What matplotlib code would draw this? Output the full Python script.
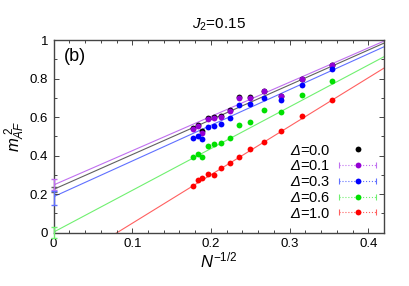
import numpy as np
import matplotlib
matplotlib.use("Agg")
import matplotlib.pyplot as plt
from matplotlib.legend_handler import HandlerErrorbar
from matplotlib.ticker import MultipleLocator

plt.rcParams['font.family'] = ['Liberation Sans', 'DejaVu Sans']
plt.rcParams['mathtext.fontset'] = 'custom'
plt.rcParams['mathtext.rm'] = 'Liberation Sans'
plt.rcParams['mathtext.it'] = 'Liberation Sans:italic'
plt.rcParams['mathtext.sf'] = 'Liberation Sans:italic'

# N^{-1/2} values
x = [0.177, 0.183, 0.189, 0.196, 0.204, 0.213, 0.224, 0.236, 0.250, 0.267, 0.289, 0.316, 0.354]

labels = ["0.0", "0.1", "0.3", "0.6", "1.0"]
colors = ["#000000", "#9400D3", "#0000FF", "#00E000", "#FF0000"]
line_colors = ["#606060", "#C070F0", "#6070FF", "#70F070", "#FF6060"]

y_d00 = [0.545, 0.560, 0.525, 0.595, 0.600, 0.606, 0.636, 0.703, 0.703, 0.736, 0.711, 0.799, 0.872]
y_d01 = [0.538, 0.552, 0.517, 0.590, 0.597, 0.602, 0.631, 0.700, 0.700, 0.733, 0.707, 0.796, 0.868]
y_d03 = [0.489, 0.503, 0.484, 0.546, 0.553, 0.564, 0.595, 0.662, 0.666, 0.697, 0.687, 0.766, 0.848]
y_d06 = [0.390, 0.408, 0.390, 0.448, 0.460, 0.463, 0.493, 0.558, 0.576, 0.635, 0.624, 0.714, 0.785]
y_d10 = [0.240, 0.273, 0.283, 0.302, 0.299, 0.333, 0.363, 0.394, 0.432, 0.468, 0.526, 0.607, 0.688]
series = [y_d00, y_d01, y_d03, y_d06, y_d10]

# linear fits: intercept, slope
fit_intercept = [0.224, 0.247, 0.186, 0.002, -0.204]
fit_slope = [1.81, 1.78, 1.855, 2.17, 2.52]

# extrapolated values at N^{-1/2}=0 with error
ext_val = [0.225, 0.25, 0.18, 0.0, None]
ext_err = [0.012, 0.028, 0.037, 0.028, None]

fig = plt.figure(figsize=(4.09, 2.86), dpi=100)
ax = fig.add_axes([0.131, 0.187, 0.808, 0.673])

xx = np.array([0.0, 0.42])
for c, lc, b, m in zip(colors, line_colors, fit_intercept, fit_slope):
    ax.plot(xx, b + m * xx, color=lc, lw=0.8, zorder=1)

for c, ys in zip(colors, series):
    ax.plot(x, ys, 'o', color=c, ms=4.2, mec='none', zorder=3)

for lc, v, e in zip(line_colors, ext_val, ext_err):
    if v is None:
        continue
    ax.errorbar([0.0], [v], yerr=[e], fmt='none', ecolor=lc, elinewidth=1.0,
                capsize=2.5, capthick=1.0, zorder=4, clip_on=False)

# legend handles
handles = []
h0 = ax.plot([np.nan], [np.nan], 'o', color=colors[0], ms=4.2, mec='none')[0]
handles.append(h0)
for c, lc in zip(colors[1:], line_colors[1:]):
    eb = ax.errorbar([np.nan], [np.nan], xerr=[0.01], fmt='o', color=c, ms=4.2,
                     mec='none', ecolor=lc, elinewidth=0.8, capsize=2.5, capthick=0.8)
    for bl in eb[2]:
        bl.set_linestyle(':')
    handles.append(eb)

leg = ax.legend(handles, [r"$\mathsf{Δ}$=" + s for s in labels],
                loc='upper left', bbox_to_anchor=(0.685, 0.515), frameon=False,
                markerfirst=False, fontsize=10.5, handlelength=2.7,
                handletextpad=0.5, labelspacing=0.12, borderpad=0.2,
                handler_map={type(handles[1]): HandlerErrorbar(xerr_size=1.25)})

ax.set_xlim(0, 0.42)
ax.set_ylim(0, 1)
ax.xaxis.set_minor_locator(MultipleLocator(0.02))
ax.yaxis.set_minor_locator(MultipleLocator(0.1))
ax.set_xticks([0, 0.1, 0.2, 0.3, 0.4])
ax.set_xticklabels(["0", "0.1", "0.2", "0.3", "0.4"])
ax.set_yticks([0, 0.2, 0.4, 0.6, 0.8, 1.0])
ax.set_yticklabels(["0", "0.2", "0.4", "0.6", "0.8", "1"])
ax.tick_params(which='both', direction='in', top=True, right=True,
               labelsize=9.5, color='#444444', pad=4)
ax.tick_params(which='major', length=3.5, width=0.7)
ax.tick_params(which='minor', length=2.0, width=0.7)
for sp in ax.spines.values():
    sp.set_color('#444444')
    sp.set_linewidth(1.0)

ax.set_xlabel(r"$\mathit{N}^{\mathrm{-1/2}}$", fontsize=12, labelpad=0)
ax.set_ylabel(r"$\mathit{m}_{\mathit{AF}}^{\ 2}$", fontsize=12, labelpad=2)
ax.set_title(r"$\mathit{J}_{2}$=0.15", fontsize=11, pad=8)
ax.text(0.03, 0.96, "(b)", transform=ax.transAxes, fontsize=13, va='top', ha='left')

fig.savefig("out.png", dpi=100)
